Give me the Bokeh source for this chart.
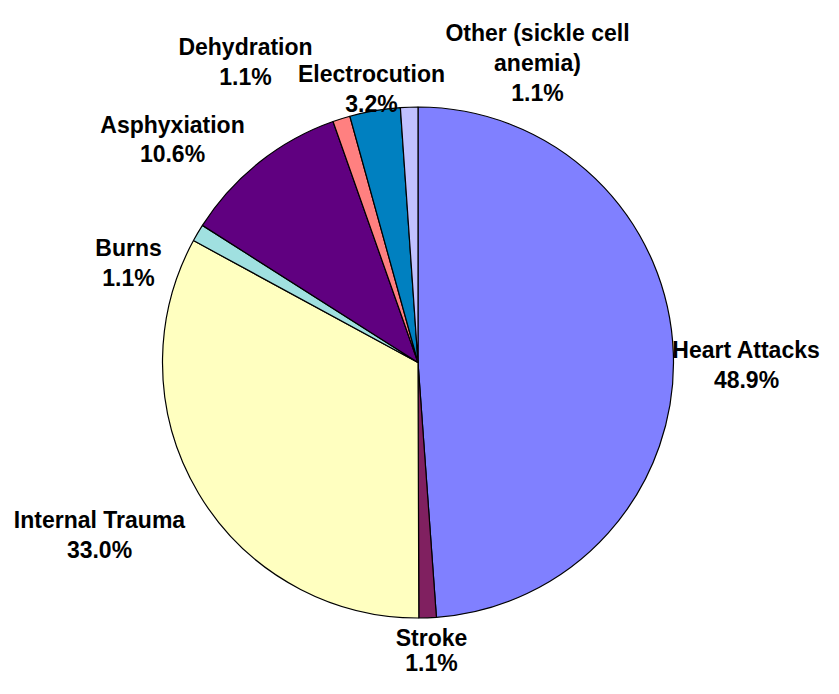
import math
from bokeh.plotting import figure
from bokeh.models import ColumnDataSource, Range1d
from bokeh.core.properties import value
from bokeh.embed import file_html
from bokeh.resources import INLINE

# ---- data ----
categories = ["Heart Attacks", "Stroke", "Internal Trauma", "Burns",
              "Asphyxiation", "Dehydration", "Electrocution",
              "Other (sickle cell anemia)"]
percent = [48.9, 1.1, 33.0, 1.1, 10.6, 1.1, 3.2, 1.1]

# ---- style / layout ----
colors = ["#8080FF", "#802060", "#FFFFC0", "#A0E0E0",
          "#600080", "#FF8080", "#0080C0", "#C0C0FF"]
label_lines = [["Heart Attacks"], ["Stroke"], ["Internal Trauma"], ["Burns"],
               ["Asphyxiation"], ["Dehydration"], ["Electrocution"],
               ["Other (sickle cell", "anemia)"]]

W, H = 823, 678
# picture-pixel layout (top-left origin)
CX, CY, R = 417.5, 362.0, 255.5
label_anchor = [(746, 349), (431, 637), (99, 519), (128, 247),
                (172, 124), (245, 46), (371, 73), (537, 32)]
label_gap = [30.5, 25.0, 30.5, 30.5, 29.5, 30.5, 30.0, 30.0]
FONT = value("Liberation Sans")
FONT_SIZE = "23px"


def dx(px):
    return px


def dy(py):
    return H - py


p = figure(width=W, height=H, output_backend="svg", toolbar_location=None,
           x_range=Range1d(0, W), y_range=Range1d(0, H),
           min_border=0, outline_line_color=None)
p.axis.visible = False
p.grid.visible = False
p.background_fill_color = "white"
p.border_fill_color = "white"

total = sum(percent)
starts, ends = [], []
cum = 0.0
for v in percent:
    a0 = math.pi / 2 - 2 * math.pi * cum / total
    cum += v
    a1 = math.pi / 2 - 2 * math.pi * cum / total
    starts.append(a1)
    ends.append(a0)

src = ColumnDataSource(dict(
    x=[dx(CX)] * len(percent), y=[dy(CY)] * len(percent),
    start=starts, end=ends, color=colors, cat=categories, pct=percent))
p.wedge(x="x", y="y", radius=R, start_angle="start", end_angle="end",
        direction="anticlock", fill_color="color", line_color="black",
        line_width=1.2, source=src)

tx, ty, tt = [], [], []
for lines, v, (ax, ay), gap in zip(label_lines, percent, label_anchor, label_gap):
    all_lines = lines + [f"{v:.1f}%"]
    for k, t in enumerate(all_lines):
        tx.append(dx(ax))
        ty.append(dy(ay + k * gap))
        tt.append(t)

p.text(x=tx, y=ty, text=tt, text_font=FONT, text_font_style="bold",
       text_font_size=FONT_SIZE, text_align="center",
       text_baseline="alphabetic", text_color="black")

open("out.html", "w").write(file_html(p, INLINE))
